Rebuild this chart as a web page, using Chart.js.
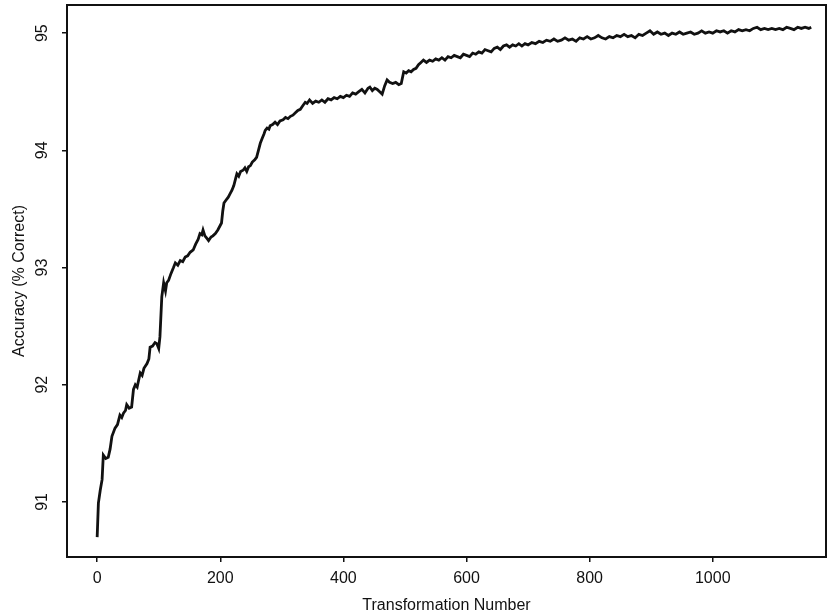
<!DOCTYPE html>
<html>
<head>
<meta charset="utf-8">
<script src="https://cdn.jsdelivr.net/npm/chart.js@4"></script>
<style>
html,body{margin:0;padding:0;background:#fff;}
#wrap{width:833px;height:615px;position:relative;}
</style>
</head>
<body>
<div id="wrap"><canvas id="c" width="833" height="615"></canvas></div>
<script>
// Transformation number (x) and accuracy (y)
const xValues = [0,2,5,8,10,14,18,21,24,29,33,37,40,43,46,48,52,56,59,62,65,67,70,73,76,81,84,86,90,94,97,100,102,105,108,111,113,116,120,124,127,131,135,139,143,147,151,156,160,164,167,170,172,175,178,181,185,188,192,196,199,202,204,206,210,213,216,219,222,225,227,230,233,237,240,243,246,249,252,256,259,262,265,268,271,273,276,279,281,285,289,293,297,302,306,310,314,318,322,326,330,334,338,341,345,350,355,360,365,370,375,380,385,390,395,400,405,410,415,420,425,430,435,440,443,447,451,455,459,463,467,471,475,480,485,490,494,498,502,506,510,514,518,522,526,530,535,540,545,550,555,560,565,570,575,580,585,590,595,600,605,610,615,620,625,630,635,640,645,650,655,660,665,670,675,680,685,690,695,700,706,712,718,724,730,736,742,748,754,760,766,772,778,784,790,796,802,808,814,820,826,832,838,844,850,856,862,868,874,880,886,892,898,904,910,916,922,928,934,940,946,952,958,964,970,976,982,988,994,1000,1006,1012,1018,1024,1030,1036,1042,1048,1054,1060,1066,1072,1078,1084,1090,1096,1102,1108,1114,1120,1126,1132,1138,1144,1150,1156,1160];
const accuracy = [90.70,90.99,91.10,91.19,91.40,91.37,91.38,91.45,91.56,91.63,91.66,91.74,91.72,91.76,91.78,91.83,91.80,91.81,91.96,92.00,91.98,92.03,92.10,92.08,92.14,92.18,92.22,92.32,92.33,92.36,92.35,92.31,92.41,92.75,92.87,92.80,92.87,92.89,92.95,93.00,93.04,93.02,93.06,93.05,93.09,93.10,93.13,93.15,93.20,93.24,93.29,93.28,93.32,93.27,93.25,93.23,93.26,93.27,93.29,93.32,93.35,93.38,93.48,93.55,93.58,93.60,93.63,93.66,93.70,93.76,93.80,93.78,93.82,93.83,93.85,93.82,93.86,93.87,93.90,93.92,93.94,94.00,94.06,94.10,94.14,94.17,94.19,94.18,94.21,94.22,94.24,94.22,94.25,94.26,94.28,94.27,94.29,94.30,94.32,94.34,94.35,94.38,94.41,94.40,94.43,94.40,94.42,94.41,94.43,94.41,94.44,94.43,94.45,94.44,94.46,94.45,94.47,94.46,94.49,94.48,94.50,94.52,94.49,94.53,94.54,94.51,94.53,94.52,94.50,94.48,94.55,94.60,94.58,94.57,94.58,94.56,94.57,94.67,94.66,94.68,94.67,94.69,94.70,94.73,94.75,94.77,94.75,94.77,94.76,94.78,94.77,94.79,94.77,94.80,94.79,94.81,94.80,94.79,94.82,94.81,94.80,94.83,94.82,94.84,94.83,94.86,94.85,94.84,94.87,94.88,94.86,94.89,94.90,94.88,94.90,94.89,94.91,94.89,94.91,94.90,94.92,94.91,94.93,94.92,94.94,94.93,94.95,94.93,94.94,94.96,94.94,94.95,94.93,94.96,94.95,94.97,94.95,94.96,94.98,94.96,94.95,94.97,94.96,94.98,94.97,94.99,94.97,94.98,94.96,94.99,94.98,95.00,95.02,94.99,95.01,94.99,95.00,94.98,95.00,94.99,95.01,94.99,95.00,95.01,94.99,95.00,95.02,95.00,95.01,95.00,95.02,95.01,95.02,95.00,95.02,95.01,95.03,95.02,95.03,95.02,95.04,95.05,95.03,95.04,95.03,95.04,95.03,95.04,95.03,95.05,95.04,95.03,95.05,95.04,95.05,95.04,95.05];
const xTicks = [0,200,400,600,800,1000];
const yTicks = [91,92,93,94,95];
const xTitle = 'Transformation Number';
const yTitle = 'Accuracy (% Correct)';

const FONT = '"Liberation Sans", Arial, Helvetica, sans-serif';
const INK = '#111';

const framePlugin = {
  id: 'frame',
  afterDraw(chart) {
    const {ctx, chartArea: a} = chart;
    ctx.save();
    ctx.strokeStyle = INK;
    ctx.lineWidth = 2;
    ctx.strokeRect(a.left, a.top, a.right - a.left, a.bottom - a.top);
    // rotated y tick labels
    const ys = chart.scales.y;
    ctx.fillStyle = INK;
    ctx.font = '16px ' + FONT;
    ctx.textAlign = 'center';
    ctx.textBaseline = 'middle';
    yTicks.forEach(v => {
      const py = ys.getPixelForValue(v);
      ctx.save();
      ctx.translate(43, py);
      ctx.rotate(-Math.PI / 2);
      ctx.fillText(String(v), 0, 0);
      ctx.restore();
    });
    ctx.restore();
  }
};

new Chart(document.getElementById('c'), {
  type: 'line',
  data: {
    datasets: [{
      data: xValues.map((x, i) => ({x: x, y: accuracy[i]})),
      borderColor: INK,
      borderWidth: 2.8,
      pointRadius: 0,
      tension: 0,
      fill: false
    }]
  },
  options: {
    responsive: false,
    animation: false,
    events: [],
    layout: {padding: {top: 5, right: 7, left: 0, bottom: 0}},
    plugins: {legend: {display: false}, tooltip: {enabled: false}},
    scales: {
      x: {
        type: 'linear',
        min: -49,
        max: 1184,
        afterBuildTicks: s => { s.ticks = xTicks.map(v => ({value: v})); },
        afterFit: s => { s.height = 58; },
        border: {display: false},
        grid: {drawOnChartArea: false, drawTicks: true, tickLength: 5, color: INK, lineWidth: 1.5},
        ticks: {color: INK, font: {family: FONT, size: 16}, padding: 7, maxRotation: 0, autoSkip: false,
                callback: v => String(v)},
        title: {display: true, text: xTitle, color: INK, font: {family: FONT, size: 16}, padding: {top: 0, bottom: 0}}
      },
      y: {
        type: 'linear',
        min: 90.53,
        max: 95.24,
        afterBuildTicks: s => { s.ticks = yTicks.map(v => ({value: v})); },
        afterFit: s => { s.width = 67; },
        border: {display: false},
        grid: {drawOnChartArea: false, drawTicks: true, tickLength: 5, color: INK, lineWidth: 1.5},
        ticks: {display: false},
        title: {display: true, text: yTitle, color: INK, font: {family: FONT, size: 16}, padding: {top: 10, bottom: 0}}
      }
    }
  },
  plugins: [framePlugin]
});
</script>
</body>
</html>
